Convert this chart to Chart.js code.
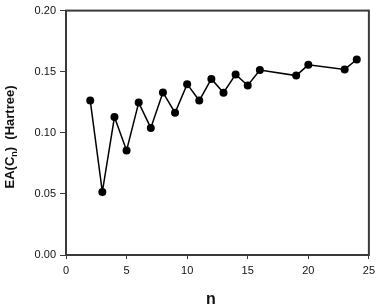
<!DOCTYPE html>
<html>
<head>
<meta charset="utf-8">
<script src="https://cdn.jsdelivr.net/npm/chart.js@4"></script>
<style>
  html, body { margin: 0; padding: 0; background: #fff; }
  #wrap { width: 380px; height: 308px; position: relative; }
</style>
</head>
<body>
<div id="wrap"><canvas id="chart"></canvas></div>
<script>
// cluster size n and electron affinity (Hartree)
const nValues = [2, 3, 4, 5, 6, 7, 8, 9, 10, 11, 12, 13, 14, 15, 16, 19, 20, 23, 24];
const eaValues = [0.1264, 0.0516, 0.1129, 0.0855, 0.1247, 0.1040, 0.1330, 0.1164, 0.1398,
                  0.1264, 0.1441, 0.1328, 0.1478, 0.1387, 0.1513, 0.1468, 0.1556, 0.1519, 0.1600];
const xTitle = 'n';
const yTitleParts = ['EA(C', 'n', ')  (Hartree)'];

const FONT = '"Liberation Sans", Arial, sans-serif';
const AXIS_COLOR = '#3a3a3a';

// frame around the plot + axis titles (the y title needs a subscript)
const decorations = {
  id: 'decorations',
  afterDraw(chart) {
    const ctx = chart.ctx;
    const a = chart.chartArea;
    ctx.save();
    ctx.strokeStyle = AXIS_COLOR;
    ctx.lineWidth = 2;
    ctx.strokeRect(a.left, a.top, a.right - a.left, a.bottom - a.top);

    ctx.fillStyle = '#111';
    ctx.font = 'bold 16px ' + FONT;
    ctx.textAlign = 'center';
    ctx.textBaseline = 'middle';
    ctx.fillText(xTitle, 211, 300);

    // rotated y title
    ctx.translate(10, 137);
    ctx.rotate(-Math.PI / 2);
    const big = 'bold 13px ' + FONT;
    const small = 'bold 9px ' + FONT;
    ctx.font = big;
    const w0 = ctx.measureText(yTitleParts[0]).width;
    const w2 = ctx.measureText(yTitleParts[2]).width;
    ctx.font = small;
    const w1 = ctx.measureText(yTitleParts[1]).width;
    let x = -(w0 + w1 + w2) / 2;
    ctx.textAlign = 'left';
    ctx.textBaseline = 'alphabetic';
    ctx.font = big;
    ctx.fillText(yTitleParts[0], x, 4);
    x += w0;
    ctx.font = small;
    ctx.fillText(yTitleParts[1], x, 7);
    x += w1;
    ctx.font = big;
    ctx.fillText(yTitleParts[2], x, 4);
    ctx.restore();
  }
};

const ctx = document.querySelector('#chart').getContext('2d');
new Chart(ctx, {
  type: 'line',
  data: {
    datasets: [{
      data: nValues.map((n, i) => ({ x: n, y: eaValues[i] })),
      borderColor: '#000',
      borderWidth: 1.5,
      tension: 0,
      pointRadius: 4,
      pointBackgroundColor: '#000',
      pointBorderColor: '#000',
      pointBorderWidth: 0
    }]
  },
  options: {
    responsive: true,
    maintainAspectRatio: false,
    animation: false,
    layout: { padding: { top: 7, right: 8, left: 0, bottom: 0 } },
    plugins: {
      legend: { display: false },
      tooltip: { enabled: false }
    },
    scales: {
      x: {
        type: 'linear',
        min: 0,
        max: 25,
        afterFit(scale) { scale.height = 53; },
        border: { display: true, color: AXIS_COLOR, width: 2 },
        grid: { drawOnChartArea: false, tickLength: 4, color: AXIS_COLOR, lineWidth: 1 },
        ticks: {
          stepSize: 5,
          padding: 5,
          color: '#111',
          font: { family: FONT, size: 11 },
          maxRotation: 0
        }
      },
      y: {
        min: 0,
        max: 0.2,
        afterFit(scale) { scale.width = 66; },
        border: { display: true, color: AXIS_COLOR, width: 2 },
        grid: { drawOnChartArea: false, tickLength: 6, color: AXIS_COLOR, lineWidth: 1 },
        ticks: {
          stepSize: 0.05,
          padding: 4,
          color: '#111',
          font: { family: FONT, size: 11 },
          callback: v => v.toFixed(2)
        }
      }
    }
  },
  plugins: [decorations]
});
</script>
</body>
</html>
